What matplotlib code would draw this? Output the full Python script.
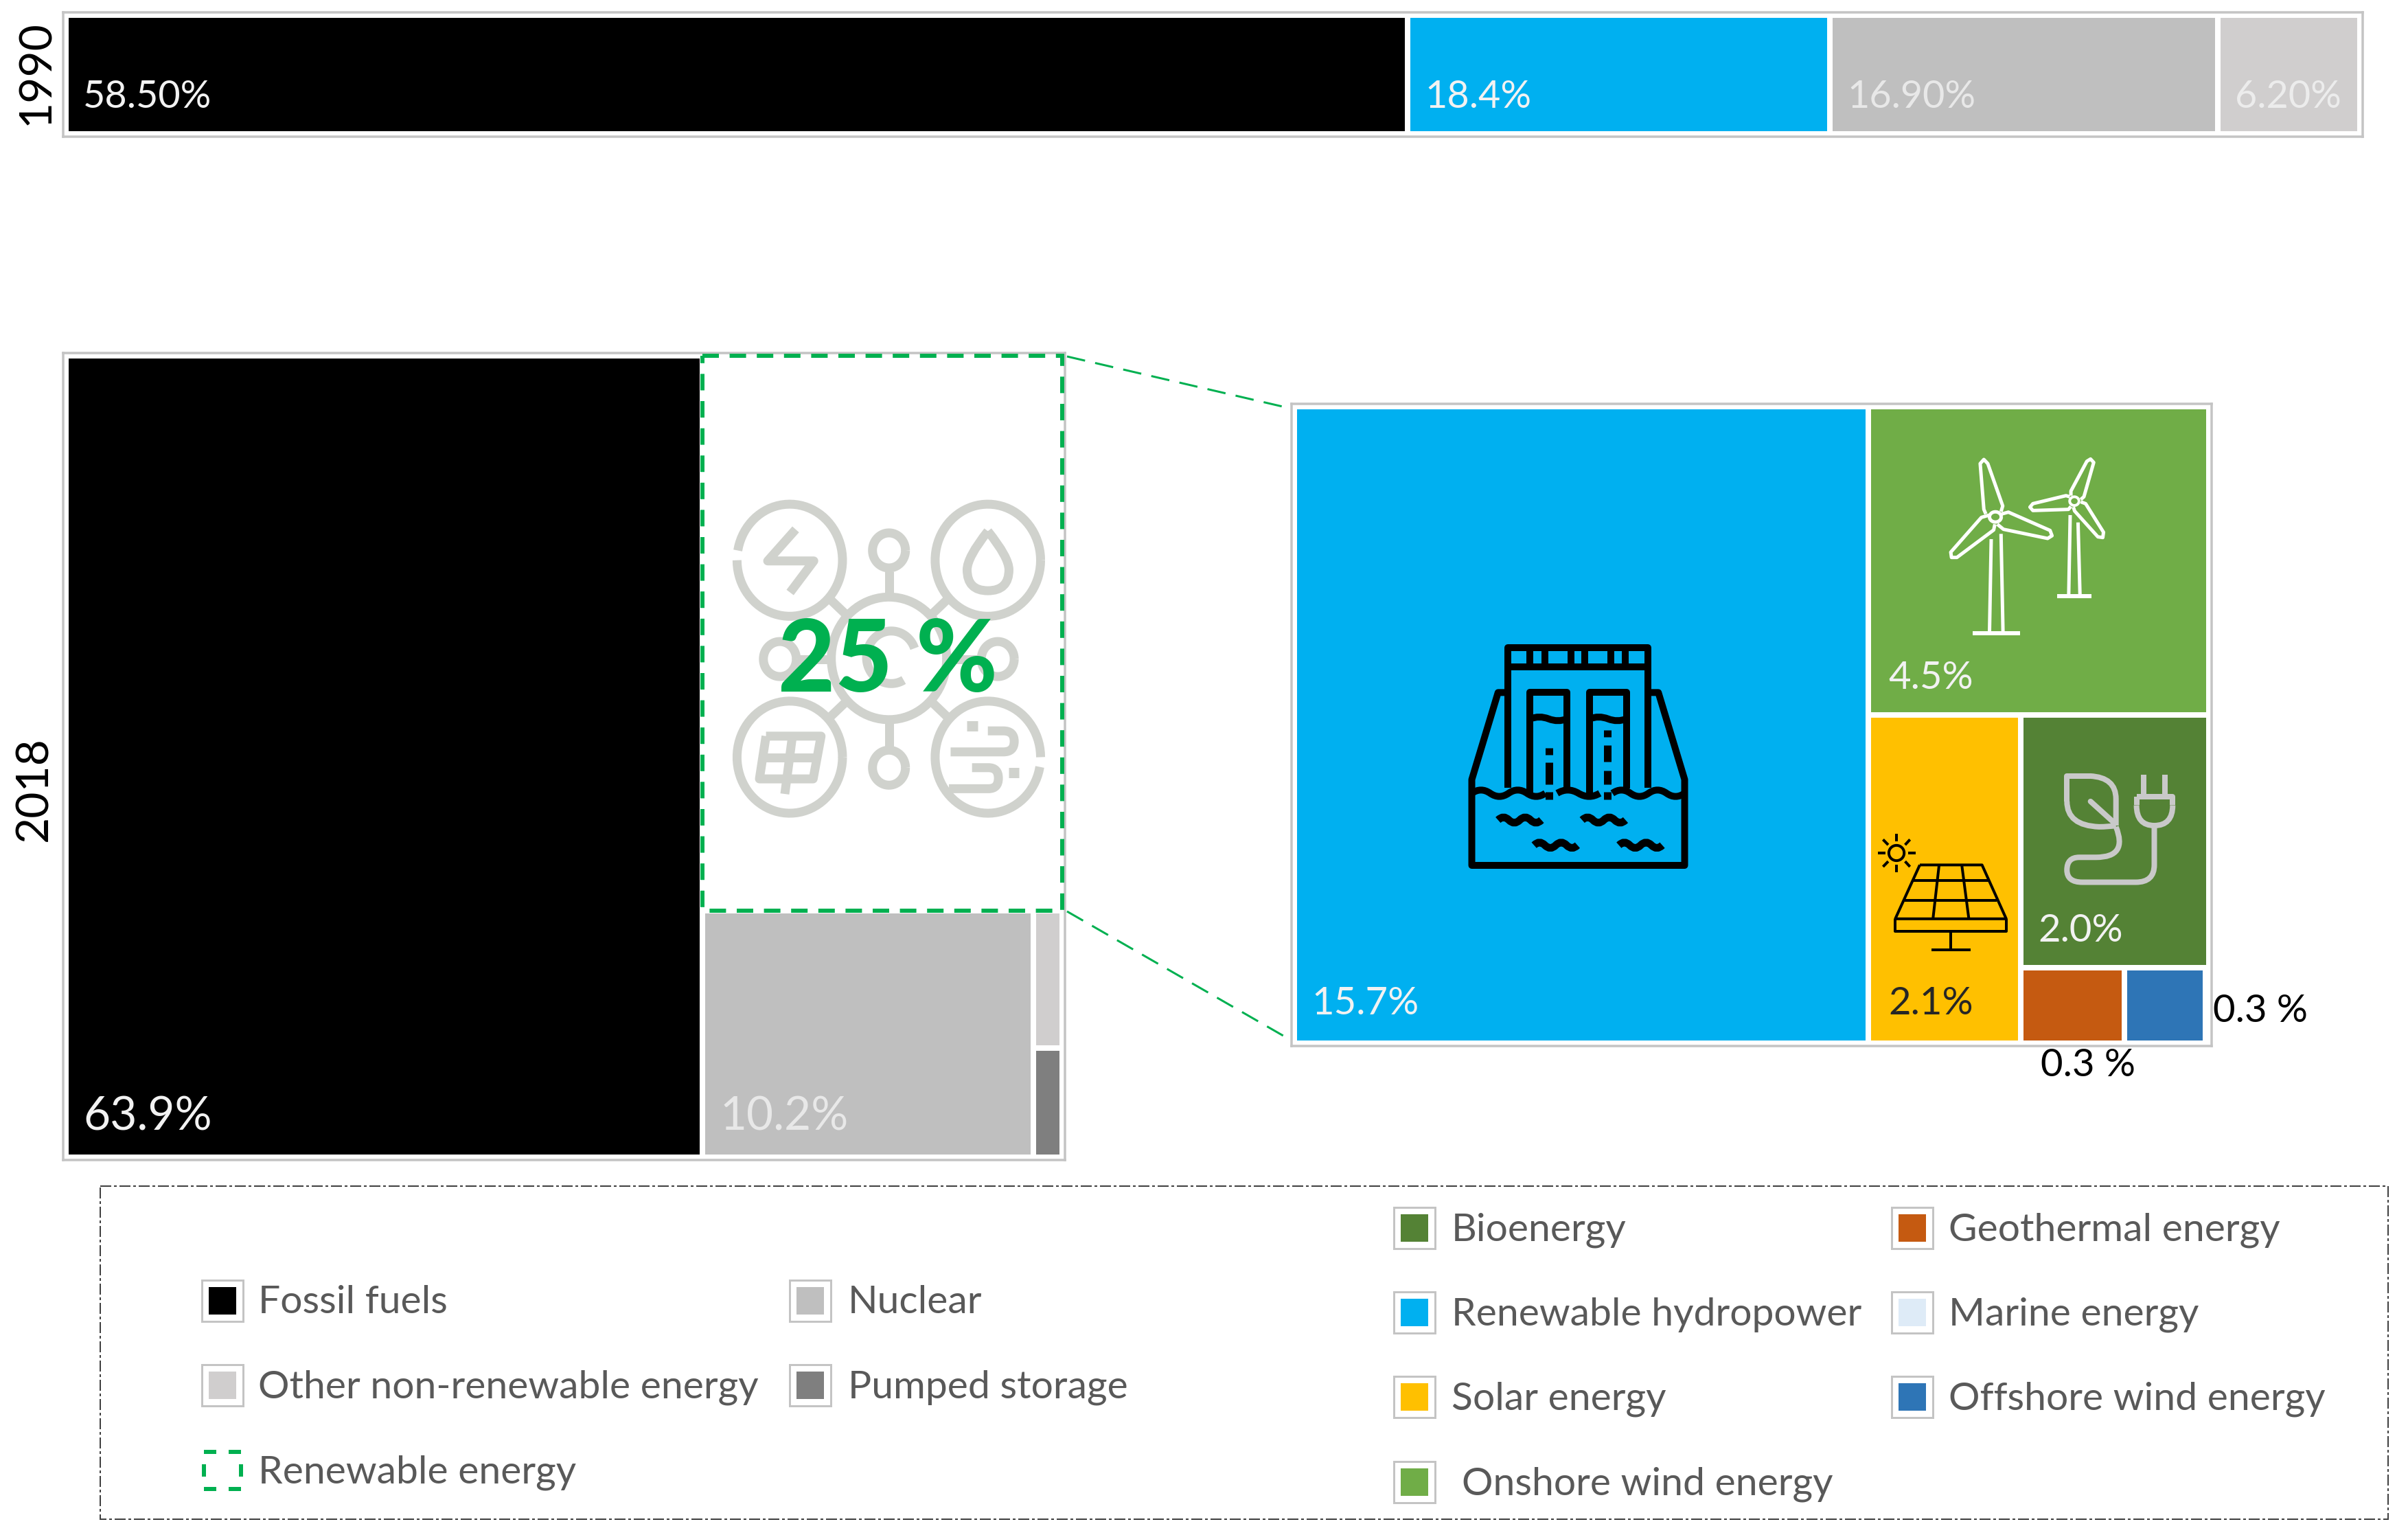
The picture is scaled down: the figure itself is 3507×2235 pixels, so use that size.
import numpy as np
import matplotlib
matplotlib.use('Agg')
import matplotlib.pyplot as plt
from matplotlib.patches import Rectangle, PathPatch
from matplotlib.path import Path

plt.rcParams['font.family'] = ['Lato', 'DejaVu Sans']

W, H = 3507, 2235
PT = 0.24  # one output pixel in points at 300 dpi

# 1990 shares
shares_1990 = [58.5, 18.4, 16.9, 6.2]
labels_1990 = ['58.50%', '18.4%', '16.90%', '6.20%']
colors_1990 = ['#000000', '#00b0f0', '#bfbfbf', '#d0cece']
textcol_1990 = ['#f2f2f2', '#f2f2f2', '#e8e8e8', '#ececec']

# 2018 shares
fossil_2018 = 63.9
renewable_2018 = 25.0
nuclear_2018 = 10.2
other_2018 = 0.5
pumped_2018 = 0.4

# renewable breakdown, 2018
hydro = 15.7
onshore = 4.5
solar = 2.1
bio = 2.0
geothermal = 0.33
offshore = 0.26
marine = 0.01

# legend
legend_left = ['Fossil fuels', 'Other non-renewable energy', 'Renewable energy']
legend_left_col = ['#000000', '#d0cece', None]
legend_mid = ['Nuclear', 'Pumped storage']
legend_mid_col = ['#bfbfbf', '#7f7f7f']
legend_right = ['Bioenergy', 'Renewable hydropower', 'Solar energy', 'Onshore wind energy']
legend_right_col = ['#548235', '#00b0f0', '#ffc000', '#70ad47']
legend_far = ['Geothermal energy', 'Marine energy', 'Offshore wind energy']
legend_far_col = ['#c55a11', '#deebf7', '#2e75b6']

GREEN = '#00b050'


def panel(x0, y0, x1, y1, xmax=100, ymax=100, pad=4):
    # axes placed by pixel box, y runs downwards like a treemap
    ax = fig.add_axes([x0 / W, 1 - y1 / H, (x1 - x0) / W, (y1 - y0) / H])
    mx = xmax * pad / (x1 - x0 - 2 * pad)
    my = ymax * pad / (y1 - y0 - 2 * pad)
    ax.set_xlim(-mx, xmax + mx)
    ax.set_ylim(ymax + my, -my)
    ax.set_xticks([])
    ax.set_yticks([])
    for s in ax.spines.values():
        s.set_color('#c4c4c4')
        s.set_linewidth(3.5 * PT)
    return ax


def slice_x(box, vals):
    x, y, w, h = box
    out = []
    for v in vals:
        out.append((x, y, w * v / sum(vals), h))
        x += w * v / sum(vals)
    return out


def slice_y(box, vals):
    x, y, w, h = box
    out = []
    for v in vals:
        out.append((x, y, w, h * v / sum(vals)))
        y += h * v / sum(vals)
    return out


def tile(ax, box, color):
    ax.bar(box[0], box[3], width=box[2], bottom=box[1], align='edge',
           color=color, edgecolor='white', linewidth=8 * PT)


def tile_label(ax, box, text, color, size, dx=6, dy=8.5):
    ax.annotate(text, (box[0], box[1] + box[3]), xytext=(dx, dy),
                textcoords='offset points', color=color, fontsize=size,
                ha='left', va='baseline')


fig = plt.figure(figsize=(W / 300, H / 300), dpi=300)

# ---- 1990 strip
ax90 = panel(92, 18, 3441, 199, ymax=1)
left = np.concatenate([[0], np.cumsum(shares_1990)[:-1]])
ax90.barh(0.5, shares_1990, height=1.0, left=left, color=colors_1990,
          edgecolor='white', linewidth=8 * PT)
for l, v, t, c in zip(left, shares_1990, labels_1990, textcol_1990):
    tile_label(ax90, (l, 0, v, 0.96), t, c, 13.4, dy=7.5)

# ---- 2018 treemap
ax18 = panel(92, 514, 1551, 1689)
col_fossil, col_rest = slice_x((0, 0, 100, 100), [fossil_2018, 100 - fossil_2018])
box_ren, box_low = slice_y(col_rest, [renewable_2018, nuclear_2018 + other_2018 + pumped_2018])
box_nuc, box_small = slice_x(box_low, [nuclear_2018, other_2018 + pumped_2018])
box_other, box_pumped = slice_y(box_small, [other_2018, pumped_2018])
tile(ax18, col_fossil, '#000000')
tile(ax18, box_nuc, '#bfbfbf')
tile(ax18, box_other, '#d0cece')
tile(ax18, box_pumped, '#7f7f7f')
ax18.add_patch(Rectangle(box_ren[:2], box_ren[2], box_ren[3], fill=False, edgecolor=GREEN,
                         linewidth=6 * PT, linestyle=(0, (4, 2.6)), clip_on=False, zorder=5))
tile_label(ax18, col_fossil, '63.9%', '#f2f2f2', 16.2, dy=9.5)
tile_label(ax18, box_nuc, '10.2%', '#e8e8e8', 16.2, dy=9.5)

# ---- renewable breakdown treemap
ax_in = panel(1881, 588, 3221, 1523, xmax=1, ymax=1)
b_hydro, b_right = slice_x((0, 0, 1, 1), [hydro, renewable_2018 - hydro])
b_on, b_low = slice_y(b_right, [onshore, renewable_2018 - hydro - onshore])
b_solar, b_r2 = slice_x(b_low, [solar, bio + geothermal + offshore + marine])
b_bio, b_r3 = slice_y(b_r2, [bio, geothermal + offshore + marine])
b_geo, b_off, b_mar = slice_x(b_r3, [geothermal, offshore, marine])
for b, c in [(b_hydro, '#00b0f0'), (b_on, '#70ad47'), (b_solar, '#ffc000'), (b_bio, '#548235'),
             (b_geo, '#c55a11'), (b_off, '#2e75b6'), (b_mar, '#deebf7')]:
    tile(ax_in, b, c)
tile_label(ax_in, b_hydro, '15.7%', '#f2f2f2', 13.5, dy=10)
tile_label(ax_in, b_on, '4.5%', '#f2f2f2', 13.5, dx=7, dy=9)
tile_label(ax_in, b_solar, '2.1%', '#262626', 13.5, dx=7, dy=10)
tile_label(ax_in, b_bio, '2.0%', '#f2f2f2', 13.5, dy=9)
tile_label(ax_in, b_off, '0.3 %', 'black', 13.5, dx=31, dy=7.5)
ax_in.annotate('0.3 %', (b_geo[0] + b_geo[2] / 2, 1), xytext=(5.5, -11.5), textcoords='offset points',
               ha='center', va='baseline', fontsize=13.5, color='black', annotation_clip=False)

# ---- overlay in pixel coordinates: icons, legend, connectors
px = fig.add_axes([0, 0, 1, 1], zorder=10)
px.set_xlim(0, W)
px.set_ylim(H, 0)
px.axis('off')
px.patch.set_alpha(0)

px.text(53, 106, '1990', rotation=90, ha='center', va='center', fontsize=15.8, color='black')
px.text(50, 1149, '2018', rotation=90, ha='center', va='center', fontsize=15.8, color='black')

px.plot([1554, 1881], [519, 595], color=GREEN, lw=3 * PT, ls=(0, (9, 5)))
px.plot([1554, 1881], [1327, 1515], color=GREEN, lw=3 * PT, ls=(0, (9, 5)))


def line(pts, conv, color, lw, closed=False, **kw):
    pts = [conv(*p) for p in pts]
    if closed:
        pts.append(pts[0])
    xs, ys = zip(*pts)
    px.plot(xs, ys, color=color, lw=lw * PT, solid_capstyle=kw.get('cap', 'butt'),
            solid_joinstyle='round', zorder=kw.get('z', 3))


def curve(start, ctrl, conv, color, lw, z=3):
    # chain of quadratic beziers: ctrl is a list of (control, end) pairs
    verts = [conv(*start)]
    codes = [Path.MOVETO]
    for c, e in ctrl:
        verts += [conv(*c), conv(*e)]
        codes += [Path.CURVE3, Path.CURVE3]
    px.add_patch(PathPatch(Path(verts, codes), fill=False, edgecolor=color, lw=lw * PT,
                           capstyle='butt', joinstyle='round', zorder=z))


def wave(x0, x1, y, amp, n, conv, color, lw):
    step = (x1 - x0) / n
    ctrl = []
    for i in range(n):
        s = -1 if i % 2 == 0 else 1
        ctrl.append(((x0 + (i + 0.5) * step, y + s * 2 * amp), (x0 + (i + 1) * step, y)))
    curve((x0, y), ctrl, conv, color, lw)


def ring(cx, cy, r, t0, t1, conv, color, lw):
    t = np.radians(np.linspace(t0, t1, 80))
    line(list(zip(cx + r * np.cos(t), cy - r * np.sin(t))), conv, color, lw)


# hub icon behind the 25 %
c_hub = lambda x, y: (950 + x / 2.083, 480 + y / 1.96)
HUB = '#d0d2cd'
ring(417, 658, 160, 180, 530, c_hub, HUB, 13)
ring(1018, 658, 160, 0, 360, c_hub, HUB, 13)
ring(417, 1220, 160, 0, 360, c_hub, HUB, 13)
ring(1018, 1220, 160, 0, 350, c_hub, HUB, 13)
ring(718, 938, 175, 0, 360, c_hub, HUB, 13)
for cx, cy in [(718, 630), (718, 1250), (387, 940), (1048, 940)]:
    ring(cx, cy, 50, 0, 360, c_hub, HUB, 13)
for seg in [[(718, 690), (718, 765)], [(718, 1110), (718, 1190)], [(540, 770), (590, 815)],
            [(895, 770), (845, 815)], [(540, 1105), (590, 1060)], [(895, 1105), (845, 1060)],
            [(440, 940), (540, 940)], [(900, 940), (990, 940)]]:
    line(seg, c_hub, HUB, 13)
line([(435, 570), (350, 660), (490, 660), (418, 750)], c_hub, HUB, 13)
curve((1018, 575), [((955, 650), (955, 685)), ((955, 745), (1018, 745)),
                    ((1082, 745), (1082, 685)), ((1082, 650), (1018, 575))], c_hub, HUB, 13)
line([(345, 1160), (512, 1160), (488, 1282), (325, 1282)], c_hub, HUB, 13, closed=True)
line([(425, 1160), (402, 1325)], c_hub, HUB, 13)
line([(335, 1222), (500, 1222)], c_hub, HUB, 13)
curve((905, 1205), [((1000, 1205), (1065, 1205)), ((1098, 1205), (1098, 1175)),
                    ((1098, 1145), (1065, 1145)), ((1040, 1145), (1018, 1145))], c_hub, HUB, 13)
curve((970, 1250), [((1000, 1250), (1020, 1250)), ((1050, 1250), (1050, 1280)),
                    ((1050, 1310), (1020, 1310)), ((960, 1310), (900, 1310))], c_hub, HUB, 13)
line([(955, 1131), (987, 1131)], c_hub, HUB, 15)
line([(1082, 1265), (1112, 1265)], c_hub, HUB, 15)
ring(725, 935, 75, 20, 300, c_hub, HUB, 13)

px.text(1293, 965, '25 %', ha='center', va='center', fontsize=34.5, fontweight='black', color=GREEN, zorder=6)

# dam
c_dam = lambda x, y: (2000 + x / 2.613, 840 + y / 3)
DAM = 'black'
line([(513, 920), (513, 310), (1045, 310), (1045, 920)], c_dam, DAM, 10)
line([(513, 393), (1045, 393)], c_dam, DAM, 10)
for x in [597, 652, 752, 805, 905, 960]:
    line([(x, 310), (x, 393)], c_dam, DAM, 10)
line([(513, 505), (475, 505), (375, 885), (375, 1260), (1185, 1260), (1185, 885), (1085, 505), (1045, 505)],
     c_dam, DAM, 10)
for gx in [597, 823]:
    line([(gx, 950), (gx, 505), (gx + 141, 505), (gx + 141, 925)], c_dam, DAM, 10)
    wave(gx, gx + 141, 620, 8, 2, c_dam, DAM, 10)
for seg in [[(668, 748), (668, 778)], [(668, 810), (668, 905)], [(668, 940), (668, 972)],
            [(890, 668), (890, 698)], [(890, 735), (890, 808)], [(890, 845), (890, 905)], [(890, 940), (890, 972)]]:
    line(seg, c_dam, DAM, 11)
wave(375, 655, 945, 14, 4, c_dam, DAM, 10)
wave(700, 862, 945, 14, 2, c_dam, DAM, 10)
wave(910, 1185, 945, 14, 4, c_dam, DAM, 10)
for x0, y in [(475, 1062), (795, 1062), (612, 1172), (935, 1172)]:
    wave(x0, x0 + 165, y, 12, 4, c_dam, DAM, 11)

# wind turbines
c_w = lambda x, y: (2700 + x / 2.8, 620 + y / 3)
WH = 'white'
ring(577, 398, 24, 0, 360, lambda x, y: (2700 + x / 2.8, 620 + (398 + (y - 398) * 0.93) / 3), WH, 5)
line([(538, 385), (530, 365), (515, 165), (530, 147), (546, 165), (607, 350), (600, 375)], c_w, WH, 5)
line([(603, 385), (630, 377), (800, 457), (808, 480), (790, 492), (610, 452), (585, 430)], c_w, WH, 5)
line([(575, 430), (570, 455), (420, 575), (398, 575), (395, 552), (520, 400), (552, 390)], c_w, WH, 5)
line([(560, 495), (553, 900)], c_w, WH, 5)
line([(600, 472), (608, 900)], c_w, WH, 5)
line([(483, 905), (678, 905)], c_w, WH, 6)
ring(899, 329, 19, 0, 360, c_w, WH, 4)
line([(885, 305), (885, 285), (950, 155), (965, 145), (978, 160), (938, 310), (925, 322)], c_w, WH, 5)
line([(880, 310), (865, 305), (730, 340), (718, 355), (730, 370), (875, 365), (885, 352)], c_w, WH, 5)
line([(895, 355), (900, 372), (995, 485), (1015, 488), (1018, 465), (945, 340), (925, 332)], c_w, WH, 5)
line([(882, 390), (876, 740)], c_w, WH, 5)
line([(914, 422), (922, 740)], c_w, WH, 5)
line([(828, 745), (968, 745)], c_w, WH, 6)

# solar panel
c_s = lambda x, y: (2700 + x / 2.24, 1030 + y / 2.703)
line([(215, 620), (418, 620), (497, 832), (135, 832)], c_s, 'black', 4, closed=True)
line([(135, 832), (135, 882), (497, 882), (497, 832)], c_s, 'black', 4)
line([(315, 882), (315, 955)], c_s, 'black', 4)
line([(252, 955), (380, 955)], c_s, 'black', 4)
line([(193, 681), (438, 681)], c_s, 'black', 4)
line([(165, 760), (465, 760)], c_s, 'black', 4)
line([(278, 620), (258, 832)], c_s, 'black', 4)
line([(352, 620), (375, 832)], c_s, 'black', 4)
ring(139, 573, 25, 0, 360, lambda x, y: (2700 + x / 2.24, 1030 + (573 + (y - 573) * 1.2) / 2.703), 'black', 4)
for seg in [[(78, 573), (102, 573)], [(178, 573), (202, 573)], [(139, 498), (139, 526)], [(139, 620), (139, 648)],
            [(95, 520), (112, 541)], [(183, 520), (167, 541)], [(95, 627), (112, 606)], [(183, 627), (167, 606)]]:
    line(seg, c_s, 'black', 4)

# leaf and plug
PL = '#c9c9c9'
line([(770, 270), (695, 270), (695, 370)], c_s, PL, 8)
curve((770, 270), [((855, 275), (855, 360)), ((855, 410), (855, 465))], c_s, PL, 8)
curve((695, 370), [((695, 465), (800, 470)), ((830, 470), (855, 465))], c_s, PL, 8)
line([(772, 370), (850, 455)], c_s, PL, 8, cap='round')
curve((855, 470), [((895, 590), (790, 590)), ((760, 590), (735, 590)), ((695, 590), (695, 640)),
                   ((695, 688), (745, 688)), ((850, 688), (920, 688)), ((980, 688), (980, 620)),
                   ((980, 540), (980, 465))], c_s, PL, 8)
line([(922, 352), (1040, 352), (1040, 385)], c_s, PL, 8)
line([(922, 352), (922, 385)], c_s, PL, 8)
curve((922, 385), [((922, 465), (980, 465)), ((1040, 465), (1040, 385))], c_s, PL, 8)
line([(945, 265), (945, 350)], c_s, PL, 8)
line([(1015, 265), (1015, 350)], c_s, PL, 8)

# ---- legend
px.add_patch(Rectangle((146, 1727), 3332, 485, fill=False, edgecolor='#404040', lw=2 * PT,
                       linestyle=(0, (8, 2, 2, 2))))


def swatch(cx, cy, color):
    if color is None:
        px.add_patch(Rectangle((cx - 27, cy - 27), 54, 54, fill=False, edgecolor=GREEN, lw=6 * PT,
                               linestyle=(0, (3, 3))))
        return
    px.add_patch(Rectangle((cx - 30, cy - 30), 60, 60, facecolor='white', edgecolor='#c4c4c4', lw=3 * PT))
    px.add_patch(Rectangle((cx - 20, cy - 20), 40, 40, facecolor=color, edgecolor='none'))


def legend_col(names, cols, cx, tx, ys):
    for n, c, y, t in zip(names, cols, ys, tx):
        swatch(cx, y, c)
        px.text(t, y + 3, n, ha='left', va='center', fontsize=13.7, color='#595959')


legend_col(legend_left, legend_left_col, 324, [376, 376, 376], [1894, 2017, 2141])
legend_col(legend_mid, legend_mid_col, 1180, [1235, 1235], [1894, 2017])
legend_col(legend_right, legend_right_col, 2060, [2114, 2114, 2114, 2129], [1788, 1911, 2034, 2158])
legend_col(legend_far, legend_far_col, 2785, [2838, 2838, 2838], [1788, 1911, 2034])

fig.savefig('out.png', dpi=300)
